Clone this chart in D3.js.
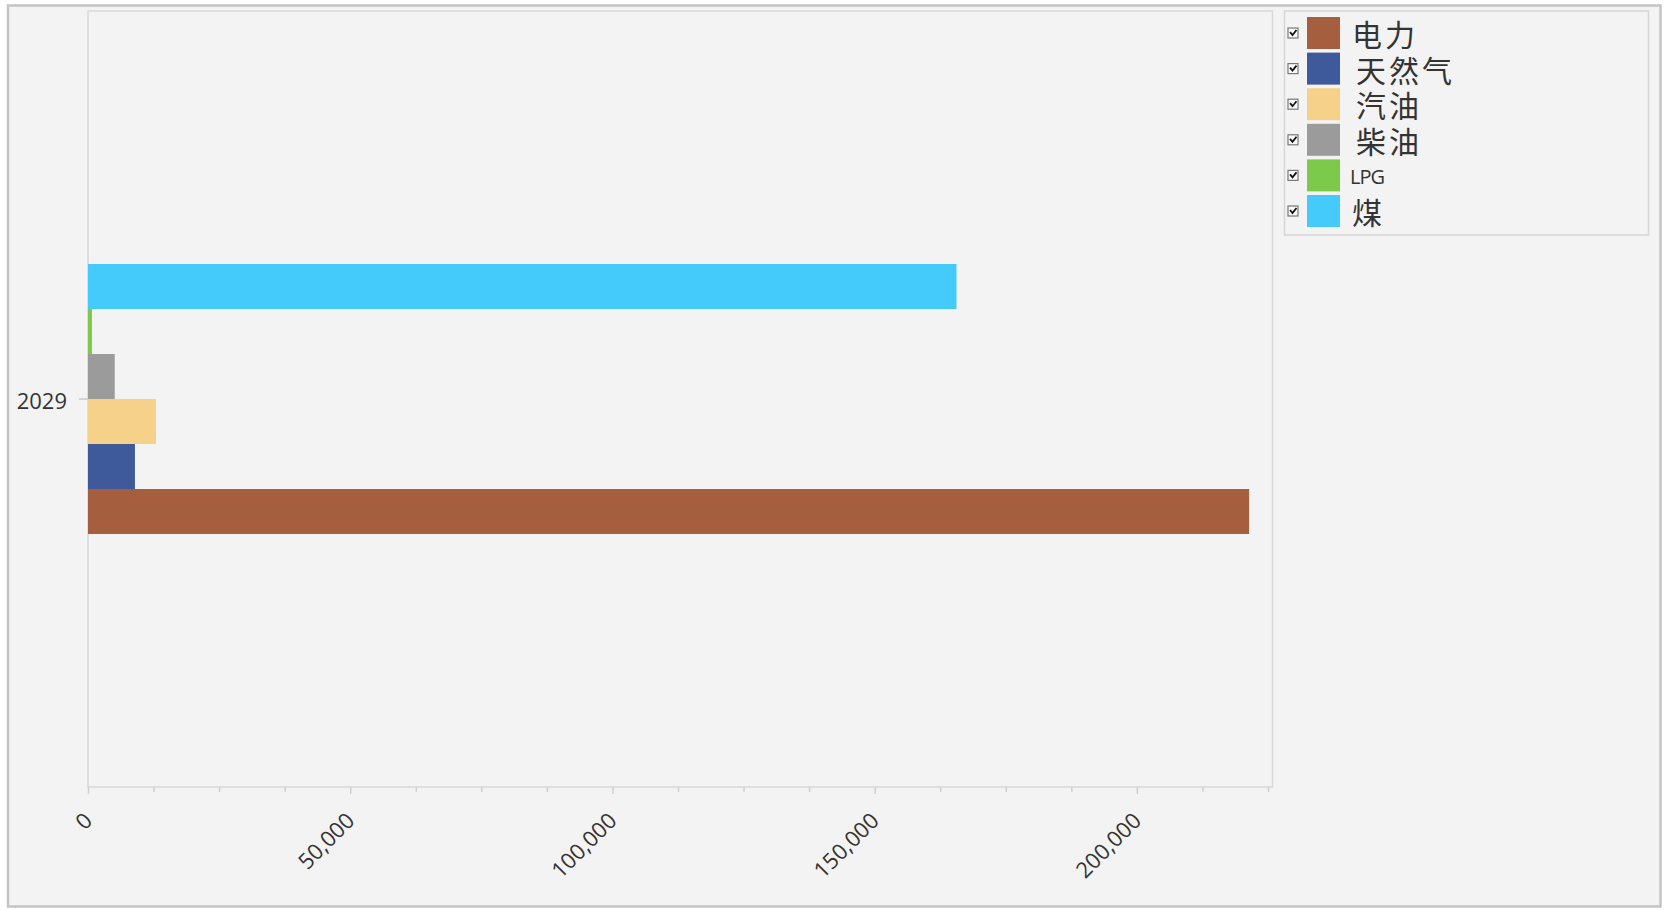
<!DOCTYPE html>
<html><head><meta charset="utf-8">
<script src="https://cdn.jsdelivr.net/npm/d3@7"></script>
<style>body{margin:0;background:#fff;} svg{display:block}</style>
</head><body><svg id="c" width="1664" height="910"></svg>
<script>
// ---- data ----
const categories = ["2029"];
const seriesNames = ["电力", "天然气", "汽油", "柴油", "LPG", "煤"];
const seriesColors = ["#A55E3E", "#3E5A9A", "#F6D189", "#9B9B9B", "#7DCA4A", "#45CBFB"];
const values2029 = [221400, 8950, 12950, 5100, 750, 165600];
const xMajorTicks = [0, 50000, 100000, 150000, 200000];
const xMax = 225000;
const xMinorStep = 12500;

// ---- layout ----
const svg = d3.select("#c");
const W = 1664, H = 910;
const plot = {left: 88, top: 11, right: 1272.5, bottom: 787};
const fontLatin = "'Open Sans', 'Noto Sans', sans-serif";
const fontCJK = "'Noto Sans CJK SC', 'Noto Sans', sans-serif";

// outer frame
svg.append("rect").attr("x", 0).attr("y", 0).attr("width", W).attr("height", H).attr("fill", "#fff");
svg.append("rect").attr("x", 8).attr("y", 5.5).attr("width", 1652.5).attr("height", 901)
  .attr("fill", "#F3F3F3").attr("stroke", "#C4C4C4").attr("stroke-width", 2.5);

// plot border
svg.append("rect").attr("x", plot.left).attr("y", plot.top)
  .attr("width", plot.right - plot.left).attr("height", plot.bottom - plot.top)
  .attr("fill", "#F3F3F3").attr("stroke", "#D9D9D9").attr("stroke-width", 1.5);

// scales
const x = d3.scaleLinear().domain([0, xMax]).range([plot.left, 1268]);
const bandH = 270;
const plotH = plot.bottom - plot.top;
const y = d3.scaleBand().domain(categories).range([plot.bottom, plot.top])
  .paddingInner(0).paddingOuter((plotH / bandH - 1) / 2);
const inner = d3.scaleBand().domain(seriesNames.slice().reverse()).range([0, y.bandwidth()]);

// bars
const rows = categories.map((c, ci) => ({cat: c, vals: seriesNames.map((s, i) => ({s, v: values2029[i], color: seriesColors[i]}))}));
const g = svg.append("g");
rows.forEach(r => {
  g.selectAll(null).data(r.vals).enter().append("rect")
    .attr("x", x(0))
    .attr("y", d => y(r.cat) + inner(d.s))
    .attr("width", d => x(d.v) - x(0))
    .attr("height", inner.bandwidth())
    .attr("fill", d => d.color);
});

// x axis minor ticks
const minor = d3.range(0, xMax + 1, xMinorStep).filter(v => !xMajorTicks.includes(v));
const axMinor = svg.append("g").attr("transform", `translate(0,${plot.bottom})`)
  .call(d3.axisBottom(x).tickValues(minor).tickSize(5).tickFormat(""));
axMinor.select(".domain").remove();
axMinor.selectAll("line").attr("stroke", "#D0D0D0").attr("stroke-width", 1.5);

const axMajor = svg.append("g").attr("transform", `translate(0,${plot.bottom})`)
  .call(d3.axisBottom(x).tickValues(xMajorTicks).tickSize(7).tickFormat(d3.format(",")));
axMajor.select(".domain").remove();
axMajor.selectAll("line").attr("stroke", "#D0D0D0").attr("stroke-width", 1.5);
axMajor.selectAll("text")
  .attr("font-family", fontLatin).attr("font-size", 22).attr("fill", "#333")
  .attr("text-anchor", "end").attr("dy", null).attr("y", null)
  .attr("dominant-baseline", "middle")
  .attr("transform", "translate(1,31) rotate(-45)");

// y axis
const ay = svg.append("g").attr("transform", `translate(${plot.left},0)`)
  .call(d3.axisLeft(y).tickSize(9).tickPadding(12));
ay.select(".domain").remove();
ay.selectAll("line").attr("stroke", "#C8C8C8").attr("stroke-width", 1.5);
ay.selectAll("text").attr("font-family", fontLatin).attr("font-size", 22).attr("fill", "#333")
  .attr("dy", "0.45em");

// legend
const lg = {x: 1284.5, y: 11, w: 364, h: 224};
svg.append("rect").attr("x", lg.x).attr("y", lg.y).attr("width", lg.w).attr("height", lg.h)
  .attr("fill", "#F3F3F3").attr("stroke", "#D6D6D6").attr("stroke-width", 1.5);
const rowPitch = 35.6;
const isLatin = d => /^[A-Za-z]+$/.test(d);
const items = svg.append("g").selectAll("g").data(seriesNames).enter().append("g")
  .attr("transform", (d, i) => `translate(0,${33 + i * rowPitch})`);
// checkbox
items.append("rect").attr("x", 1288).attr("y", -5).attr("width", 10).attr("height", 10)
  .attr("fill", "#fafafa").attr("stroke", "#777").attr("stroke-width", 1.2);
items.append("path").attr("d", "M1290,-1 L1292.5,2 L1296.5,-3")
  .attr("fill", "none").attr("stroke", "#111").attr("stroke-width", 1.8);
items.append("rect").attr("x", 1307).attr("y", -16).attr("width", 33).attr("height", 32)
  .attr("fill", (d, i) => seriesColors[i]);
items.append("text")
  .attr("x", (d, i) => isLatin(d) ? 1350 : (i === 0 || i === 5 ? 1352 : 1356))
  .attr("y", d => isLatin(d) ? 1 : 0).attr("dominant-baseline", "central")
  .attr("font-family", d => isLatin(d) ? fontLatin : fontCJK)
  .attr("font-size", d => isLatin(d) ? 20 : 30)
  .attr("letter-spacing", d => isLatin(d) ? -1 : 3)
  .attr("fill", "#333")
  .text(d => d);
</script></body></html>
